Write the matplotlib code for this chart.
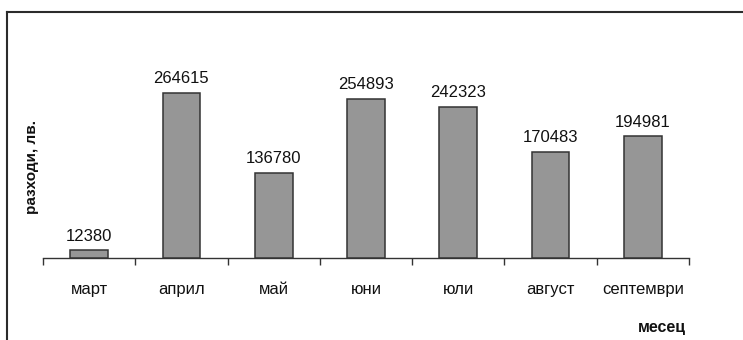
import matplotlib.pyplot as plt
from matplotlib.lines import Line2D

plt.rcParams['font.family'] = ['Liberation Sans', 'DejaVu Sans']

months = ['март', 'април', 'май', 'юни', 'юли', 'август', 'септември']
expenses = [12380, 264615, 136780, 254893, 242323, 170483, 194981]

W, H = 743, 340
fig = plt.figure(figsize=(W / 100, H / 100), dpi=100)
ax = fig.add_axes([43 / W, 82 / H, 646 / W, 187 / H])

x = list(range(len(months)))
bars = ax.bar(x, expenses, width=0.41, color='#969696',
              edgecolor='#333333', linewidth=1.1, zorder=3)

for xi, v in zip(x, expenses):
    ax.annotate(str(v), (xi, v), xytext=(0, 7), textcoords='offset points',
                ha='center', va='baseline', fontsize=12, color='#111111')

ax.set_xlim(-0.5, len(months) - 0.5)
ax.set_ylim(0, 300000)

# boundary ticks between categories, labels centred under bars
ax.set_xticks([i - 0.5 for i in range(len(months) + 1)])
ax.set_xticklabels([])
ax.tick_params(axis='x', which='major', length=5, width=1, color='#333333',
               direction='out')
ax.set_xticks(x, minor=True)
ax.set_xticklabels(months, minor=True, fontsize=12, color='#111111')
ax.tick_params(axis='x', which='minor', length=0, pad=17)

ax.set_yticks([])
for side in ['left', 'right', 'top']:
    ax.spines[side].set_visible(False)
ax.spines['bottom'].set_color('#333333')
ax.spines['bottom'].set_linewidth(1)

fig.text(32 / W, 1 - 167 / H, 'разходи, лв.', rotation=90, ha='center',
         va='center', fontsize=11, fontweight='bold', color='#111111')
fig.text(662 / W, 1 - 332 / H, 'месец', ha='center', va='baseline',
         fontsize=11.5, fontweight='bold', color='#111111')

# chart frame (runs off the right and bottom edges)
fig.add_artist(Line2D([7 / W, 7 / W], [1 - 12 / H, -0.05], color='#2b2b2b',
                      linewidth=1.5, transform=fig.transFigure))
fig.add_artist(Line2D([7 / W, 1.05], [1 - 12 / H, 1 - 12 / H], color='#2b2b2b',
                      linewidth=1.5, transform=fig.transFigure))

fig.savefig('out.png', dpi=100)
